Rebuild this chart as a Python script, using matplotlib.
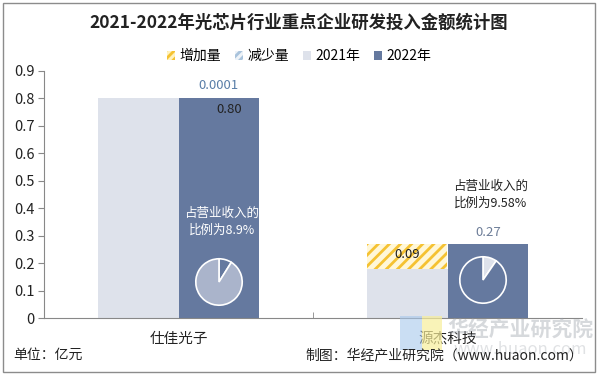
import matplotlib
matplotlib.use("Agg")
import matplotlib.pyplot as plt
from matplotlib.patches import Patch, Rectangle

plt.rcParams['font.family'] = ['Noto Sans CJK SC', 'DejaVu Sans']
plt.rcParams['hatch.linewidth'] = 2.0

companies = ["仕佳光子", "源杰科技"]
v2021 = [0.80, 0.18]
v2022 = [0.8001, 0.27]
increase = [0.0001, 0.09]
ratio = [8.9, 9.58]
ratio_text = ["占营业收入的\n比例为8.9%", "占营业收入的\n比例为9.58%"]
yticks = [0, 0.1, 0.2, 0.3, 0.4, 0.5, 0.6, 0.7, 0.8, 0.9]

C21 = "#dee2eb"
C22 = "#65799f"
YEL = "#f5c232"
PIE_LIGHT = "#aab4cb"

fig = plt.figure(figsize=(5.98, 3.75), dpi=100)
W, H = 598, 375
ax = fig.add_axes([44 / W, 1 - 318 / H, (582 - 44) / W, (318 - 71) / H])

x = [0, 1]
bw = 0.3
ax.bar([i - bw / 2 for i in x], v2021, width=bw, color=C21, zorder=2)
ax.bar([i + bw / 2 for i in x], v2022, width=bw, color=C22, zorder=2)
# increase shown as hatched segment on top of the 2021 bar (second company)
ax.bar(x[1] - bw / 2, increase[1], bottom=v2021[1], width=bw,
       color="#fff7d8", edgecolor=YEL, hatch="///", linewidth=0, zorder=3)

ax.set_xlim(-0.5, 1.5)
ax.set_ylim(0, 0.9)
ax.set_yticks(yticks)
ax.set_yticklabels(["0"] + [f"{t:.1f}" for t in yticks[1:]])
ax.set_xticks([0, 1])
ax.set_xticklabels(companies)
ax.set_xticks([0.5], minor=True)
ax.tick_params(axis="y", length=4, color="#888888", labelsize=10.5, labelcolor="#222222", pad=3)
ax.tick_params(axis="x", which="major", length=0, labelsize=10.5, labelcolor="#222222", pad=10)
ax.tick_params(axis="x", which="minor", length=4, direction="in", color="#888888")
for s in ["top", "right"]:
    ax.spines[s].set_visible(False)
ax.spines["left"].set_color("#888888")
ax.spines["bottom"].set_color("#888888")

# value labels
ax.text(x[0] + bw / 2, v2022[0] + 0.022, "0.0001", ha="center", va="bottom",
        color="#5a7ea8", fontsize=9.5, zorder=5)
ax.text(x[0] + bw / 2 + 0.04, v2022[0] - 0.04, "0.80", ha="center", va="center",
        color="#222222", fontsize=9.5, zorder=5)
ax.text(x[1] - bw / 2, v2021[1] + increase[1] / 2 + 0.008, "0.09", ha="center", va="center",
        color="#222222", fontsize=9.5, zorder=5)
ax.text(x[1] + bw / 2, v2022[1] + 0.018, "0.27", ha="center", va="bottom",
        color="#6d7d98", fontsize=9.5, zorder=5)

# ratio text
ax.text(x[0] + bw / 2 + 0.01, 0.35, ratio_text[0], ha="center", va="center",
        color="white", fontsize=9, linespacing=1.35, zorder=5)
ax.text(x[1] + bw / 2 + 0.01, 0.448, ratio_text[1], ha="center", va="center",
        color="#222222", fontsize=9, linespacing=1.35, zorder=5)

# pies
pie1 = fig.add_axes([(219 - 29) / W, 1 - (282 + 29) / H, 58 / W, 58 / H])
pie1.pie([ratio[0], 100 - ratio[0]], colors=[C22, PIE_LIGHT], startangle=90,
         counterclock=False, wedgeprops=dict(edgecolor="white", linewidth=1.2))
pie1.set_aspect("equal")
pie2 = fig.add_axes([(483 - 29) / W, 1 - (280 + 29) / H, 58 / W, 58 / H])
pie2.pie([ratio[1], 100 - ratio[1]], colors=[C21, C22], startangle=90,
         counterclock=False, wedgeprops=dict(edgecolor="white", linewidth=1.2))
pie2.set_aspect("equal")

# title
fig.text(0.5, 1 - 23 / H, "2021-2022年光芯片行业重点企业研发投入金额统计图",
         ha="center", va="center", fontsize=12.5, fontweight="bold", color="#222222")

# legend
handles = [
    Patch(facecolor="#fff3c0", edgecolor=YEL, hatch="////", linewidth=0),
    Patch(facecolor="#eef3f8", edgecolor="#a9c3dc", hatch="////", linewidth=0),
    Patch(facecolor=C21, edgecolor="none"),
    Patch(facecolor=C22, edgecolor="none"),
]
fig.legend(handles, ["增加量", "减少量", "2021年", "2022年"], loc="center",
           bbox_to_anchor=(0.5, 1 - 56 / H), ncol=4, frameon=False, fontsize=10,
           handlelength=0.6, handleheight=0.6, handletextpad=0.3, columnspacing=1.0)

# watermark
fig.text(520 / W, 1 - 329 / H, "华经产业研究院", ha="center", va="center",
         fontsize=15, fontweight="bold", color="#9aa0a8", alpha=0.4)
fig.text(520 / W, 1 - 349 / H, "www.huaon.com", ha="center", va="center",
         fontsize=12, color="#9aa0a8", alpha=0.3)
fig.patches.append(Rectangle((400 / W, 1 - 350 / H), 22 / W, 34 / H,
                             transform=fig.transFigure, facecolor="#a8c8ec", alpha=0.6,
                             edgecolor="none"))
fig.patches.append(Rectangle((422 / W, 1 - 350 / H), 20 / W, 34 / H,
                             transform=fig.transFigure, facecolor="#f7ee9a", alpha=0.7,
                             edgecolor="none"))

# footer
fig.text(13 / W, 1 - 355 / H, "单位：亿元", ha="left", va="center", fontsize=10, color="#222222")
fig.text(583 / W, 1 - 355 / H, "制图：华经产业研究院（www.huaon.com）", ha="right",
         va="center", fontsize=10, color="#222222")

# outer border
fig.patches.append(Rectangle((3 / W, 3 / H), 592 / W, 369 / H, transform=fig.transFigure,
                             facecolor="none", edgecolor="#8c8c8c", linewidth=1))

fig.savefig("out.png", dpi=100)
